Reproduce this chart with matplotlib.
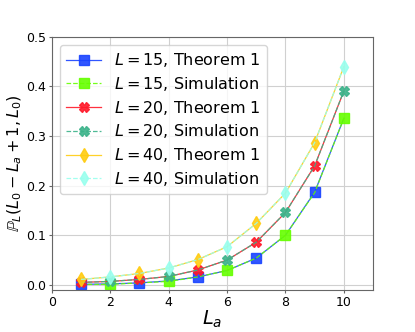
import matplotlib
matplotlib.use("Agg")
import matplotlib.pyplot as plt

La = [1, 2, 3, 4, 5, 6, 7, 8, 9, 10]

# L = 15
thm_15 = [0.001, 0.002, 0.004, 0.008, 0.016, 0.029, 0.054, 0.100, 0.187, 0.336]
sim_15 = [0.001, 0.001, 0.004, 0.007, 0.016, 0.029, 0.054, 0.100, 0.186, 0.336]
# L = 20
thm_20 = [0.005, 0.007, 0.011, 0.017, 0.030, 0.050, 0.086, 0.146, 0.240, 0.391]
sim_20 = [0.005, 0.007, 0.011, 0.017, 0.030, 0.050, 0.086, 0.146, 0.240, 0.391]
# L = 40
thm_40 = [0.011, 0.016, 0.023, 0.034, 0.051, 0.077, 0.124, 0.185, 0.287, 0.440]
sim_40 = [0.011, 0.016, 0.023, 0.034, 0.051, 0.077, 0.124, 0.185, 0.287, 0.440]

series = [
    ("$L = 15$, Theorem 1", thm_15, "#1a44ff", "s", "-", slice(0, None, 2)),
    ("$L = 15$, Simulation", sim_15, "#66ff00", "s", "--", slice(1, None, 2)),
    ("$L = 20$, Theorem 1", thm_20, "#ff1a2a", "X", "-", slice(0, None, 2)),
    ("$L = 20$, Simulation", sim_20, "#3cb38a", "X", "--", slice(1, None, 2)),
    ("$L = 40$, Theorem 1", thm_40, "#ffcc11", "d", "-", slice(0, None, 2)),
    ("$L = 40$, Simulation", sim_40, "#99ffee", "d", "--", slice(1, None, 2)),
]

fig, ax = plt.subplots(figsize=(4.15, 3.32), dpi=100)

for label, ys, color, marker, ls, every in series:
    ax.plot(La, ys, color=color, linestyle=ls, linewidth=0.9, marker=marker,
            markersize=7, markevery=every, label=label, alpha=0.9)

ax.set_xlim(0, 11)
ax.set_ylim(-0.01, 0.5)
ax.set_xticks([0, 2, 4, 6, 8, 10])
ax.set_yticks([0.0, 0.1, 0.2, 0.3, 0.4, 0.5])
ax.tick_params(labelsize=9, length=2.5, pad=2, color="#666666")
ax.grid(True, color="#d0d0d0", linewidth=0.8)
for sp in ax.spines.values():
    sp.set_color("#666666")

ax.set_xlabel("$L_a$", fontsize=14, labelpad=0)
ax.set_ylabel(r"$\mathbb{P}_L(L_0 - L_a + 1, L_0)$", fontsize=11.5, labelpad=1)
ax.legend(loc="upper left", fontsize=11.5, handlelength=2.2, labelspacing=0.36,
          borderaxespad=0.5)

fig.subplots_adjust(left=0.125, right=0.899, top=0.889, bottom=0.127)
fig.savefig("out.png", dpi=100)
